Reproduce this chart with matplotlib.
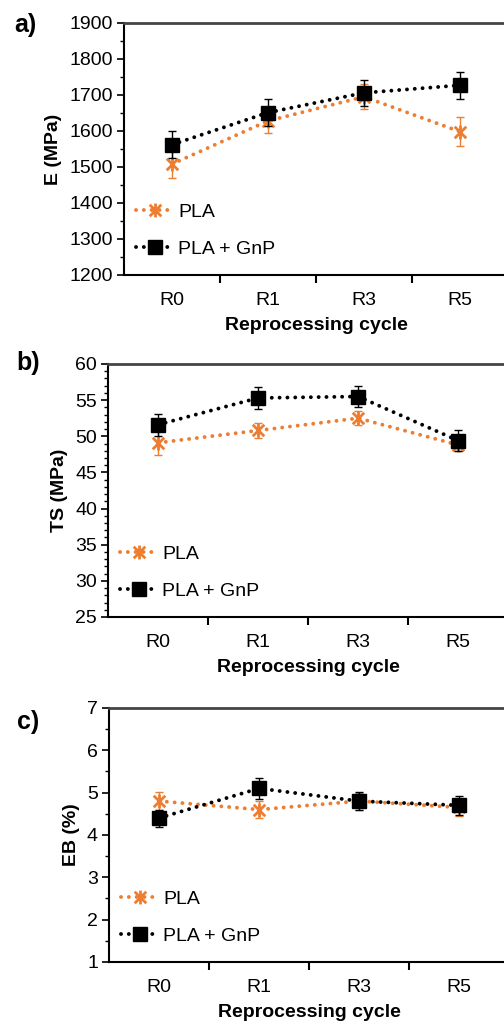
import matplotlib
matplotlib.use("Agg")
import matplotlib.pyplot as plt
from matplotlib.path import Path
from matplotlib.ticker import MultipleLocator, NullFormatter

plt.rcParams['font.family'] = ['Liberation Sans', 'DejaVu Sans']

cycles = ["R0", "R1", "R3", "R5"]

# a) modulus
e_pla = [1508, 1628, 1695, 1598]
e_pla_err = [40, 35, 35, 40]
e_gnp = [1562, 1651, 1706, 1727]
e_gnp_err = [37, 38, 36, 37]

# b) tensile strength
ts_pla = [49.1, 50.8, 52.5, 48.8]
ts_pla_err = [1.7, 1.1, 1.0, 0.9]
ts_gnp = [51.6, 55.3, 55.5, 49.4]
ts_gnp_err = [1.5, 1.5, 1.5, 1.5]

# c) elongation at break
eb_pla = [4.8, 4.6, 4.8, 4.65]
eb_pla_err = [0.22, 0.2, 0.2, 0.2]
eb_gnp = [4.4, 5.1, 4.8, 4.7]
eb_gnp_err = [0.2, 0.25, 0.22, 0.22]

orange = "#ED7D31"
dots = (0, (0.01, 2.0))

# excel-like star marker: X with a vertical bar
star = Path([(-1, -1), (1, 1), (-1, 1), (1, -1), (0, -1.2), (0, 1.2)],
            [Path.MOVETO, Path.LINETO, Path.MOVETO, Path.LINETO, Path.MOVETO, Path.LINETO])

fig = plt.figure(figsize=(5.04, 10.21), dpi=100)

panels = [
    ("a)", [0.246, 0.7307, 0.762, 0.2468], e_pla, e_pla_err, e_gnp, e_gnp_err,
     "E (MPa)", (1200, 1900), 100, 50, (25 / 504, 1 - 25 / 1021)),
    ("b)", [0.2143, 0.3957, 0.794, 0.2478], ts_pla, ts_pla_err, ts_gnp, ts_gnp_err,
     "TS (MPa)", (25, 60), 5, 1, (28 / 504, 1 - 363 / 1021)),
    ("c)", [0.2163, 0.0578, 0.794, 0.2488], eb_pla, eb_pla_err, eb_gnp, eb_gnp_err,
     "EB (%)", (1, 7), 1, 0.5, (28 / 504, 1 - 722 / 1021)),
]

x = list(range(len(cycles)))
for tag, rect, pla, pla_err, gnp, gnp_err, ylab, ylim, major, minor, tpos in panels:
    ax = fig.add_axes(rect)
    ax.errorbar(x, pla, yerr=pla_err, fmt="none", ecolor=orange,
                elinewidth=1, capsize=3, capthick=1, zorder=2)
    l1, = ax.plot(x, pla, color=orange, ls=dots, lw=2.8, dash_capstyle="round",
                  marker=star, ms=10, mew=2, mfc="none", mec=orange,
                  label="PLA", zorder=3)
    ax.errorbar(x, gnp, yerr=gnp_err, fmt="none", ecolor="black",
                elinewidth=1, capsize=3, capthick=1, zorder=4)
    l2, = ax.plot(x, gnp, color="black", ls=dots, lw=2.8, dash_capstyle="round",
                  marker="s", ms=10, mfc="black", mec="black",
                  label="PLA + GnP", zorder=5)

    ax.set_xlim(-0.5, 3.5)
    ax.set_ylim(*ylim)
    ax.set_xticks([0.5, 1.5, 2.5])
    ax.xaxis.set_major_formatter(NullFormatter())
    ax.set_xticks(x, minor=True)
    ax.set_xticklabels(cycles, minor=True, fontsize=14)
    ax.tick_params(axis="x", which="minor", length=0, pad=12)
    ax.tick_params(axis="x", which="major", length=6, width=1.5, direction="out")
    ax.yaxis.set_major_locator(MultipleLocator(major))
    ax.yaxis.set_minor_locator(MultipleLocator(minor))
    ax.tick_params(axis="y", which="major", length=5, width=1.2, labelsize=14, pad=3)
    ax.tick_params(axis="y", which="minor", length=3, width=1)
    for s in ["left", "bottom"]:
        ax.spines[s].set_linewidth(1.5)
    ax.spines["top"].set_linewidth(2)
    ax.spines["top"].set_color("#444444")
    ax.spines["right"].set_visible(False)

    ax.set_xlabel("Reprocessing cycle", fontsize=14, fontweight="bold", labelpad=6)
    ax.set_ylabel(ylab, fontsize=14, fontweight="bold", labelpad=5)

    ax.legend(handles=[l1, l2], loc="lower left", frameon=False, fontsize=14,
              handlelength=2.0, handletextpad=0.2, labelspacing=1.0,
              borderaxespad=0.2, bbox_to_anchor=(0.0, 0.02))

    fig.text(tpos[0], tpos[1], tag, fontsize=18, fontweight="bold",
             ha="center", va="center")

fig.savefig("out.png", dpi=100)
